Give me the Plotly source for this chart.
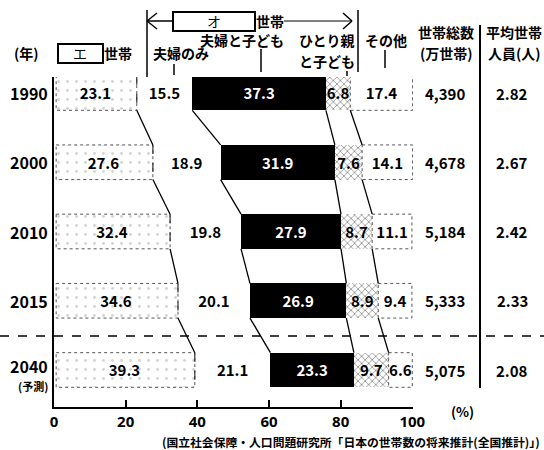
import plotly.graph_objects as go

# ---- data ----
years = ["1990", "2000", "2010", "2015", "2040"]
categories = ["単独", "夫婦のみ", "夫婦と子ども", "ひとり親と子ども", "その他"]
tandoku = [23.1, 27.6, 32.4, 34.6, 39.3]
fufu_nomi = [15.5, 18.9, 19.8, 20.1, 21.1]
fufu_ko = [37.3, 31.9, 27.9, 26.9, 23.3]
hitorioya = [6.8, 7.6, 8.7, 8.9, 9.7]
sonota = [17.4, 14.1, 11.1, 9.4, 6.6]
total_households = ["4,390", "4,678", "5,184", "5,333", "5,075"]
avg_members = ["2.82", "2.67", "2.42", "2.33", "2.08"]
x_ticks = [0, 20, 40, 60, 80, 100]

FONT = "Noto Sans CJK JP"
W, H = 544, 450
ML, MR, MT, MB = 54, 131, 77, 43
PW, PH = W - ML - MR, H - MT - MB
XMAX = 100.2
HF = 14     # header font size
NF = 15     # number font size


def px(x):
    return (x - ML) / PW


def py(y):
    return (H - MB - y) / PH


ypos = list(range(len(years)))
series = [tandoku, fufu_nomi, fufu_ko, hitorioya, sonota]

fig = go.Figure()

styles = [
    dict(color="white", pattern=dict(shape=".", fgcolor="#aaaaaa", bgcolor="white", size=9, solidity=0.08), tc="black"),
    dict(color="white", pattern=None, tc="black"),
    dict(color="black", pattern=None, tc="white"),
    dict(color="white", pattern=dict(shape="x", fgcolor="#222222", bgcolor="white", size=5, solidity=0.3), tc="black"),
    dict(color="white", pattern=None, tc="black"),
]

for name, vals, st in zip(categories, series, styles):
    marker = dict(color=st["color"], line=dict(width=0))
    if st["pattern"]:
        marker["pattern"] = st["pattern"]
    fig.add_trace(go.Bar(
        y=ypos, x=vals, orientation="h", width=0.5, name=name,
        marker=marker, text=[f"{v:.1f}" for v in vals],
        textposition="inside", insidetextanchor="middle", textangle=0,
        textfont=dict(family=FONT, size=NF, color=st["tc"], weight="bold"),
        cliponaxis=False, hoverinfo="skip",
    ))

shapes = []
cums = []
for i in range(len(years)):
    c, row = 0, []
    for s in series:
        c += s[i]
        row.append(c)
    cums.append(row)

for i in range(len(years)):
    shapes.append(dict(type="rect", xref="x", yref="y", x0=0.6, x1=cums[i][0],
                       y0=i - 0.25, y1=i + 0.25, line=dict(color="#555", width=1, dash="dot")))
    shapes.append(dict(type="rect", xref="x", yref="y", x0=cums[i][3], x1=cums[i][4],
                       y0=i - 0.25, y1=i + 0.25, line=dict(color="#555", width=1, dash="dot")))
    shapes.append(dict(type="line", xref="x", yref="y", x0=cums[i][0], x1=cums[i][0],
                       y0=i - 0.25, y1=i + 0.25, line=dict(color="#333", width=1.2, dash="dash")))

for i in range(len(years) - 1):
    for k in range(4):
        shapes.append(dict(type="line", xref="x", yref="y",
                           x0=cums[i][k], y0=i + 0.25, x1=cums[i + 1][k], y1=i + 1 - 0.25,
                           line=dict(color="black", width=1.3)))

shapes.append(dict(type="line", xref="paper", yref="paper", x0=px(0), x1=px(544),
                   y0=py(336), y1=py(336), line=dict(color="black", width=1.5, dash="dash")))
shapes.append(dict(type="line", xref="paper", yref="paper", x0=px(480), x1=px(480),
                   y0=py(25), y1=py(388), line=dict(color="black", width=2)))


def pline(x0, y0, x1, y1, w=1.5):
    shapes.append(dict(type="line", xref="paper", yref="paper", x0=px(x0), y0=py(y0),
                       x1=px(x1), y1=py(y1), line=dict(color="black", width=w)))


pline(147, 10, 147, 77)
pline(358, 10, 358, 72)
pline(147, 21, 173, 21)
pline(284, 21, 352, 21, 1)
pline(147, 21, 157, 13)
pline(147, 21, 157, 29)
pline(352, 21, 343, 13)
pline(352, 21, 343, 29)
shapes.append(dict(type="rect", xref="paper", yref="paper", x0=px(173), x1=px(255),
                   y0=py(31), y1=py(12), line=dict(color="black", width=2), fillcolor="white"))
shapes.append(dict(type="rect", xref="paper", yref="paper", x0=px(58), x1=px(103),
                   y0=py(63), y1=py(44), line=dict(color="black", width=2), fillcolor="white"))
pline(174, 64, 174, 75)
pline(261, 49, 261, 72)
pline(347, 71, 347, 76)
pline(385, 50, 385, 68)

annotations = []


def ptext(x, y, t, size=HF, anchor="center", bold=True):
    annotations.append(dict(xref="paper", yref="paper", x=px(x), y=py(y), text=t,
                            showarrow=False, xanchor=anchor, yanchor="middle",
                            font=dict(family=FONT, size=size, color="black",
                                      weight="bold" if bold else "normal")))


ptext(26, 53, "(年)")
ptext(80, 53, "エ", bold=False)
ptext(118, 53, "世帯")
ptext(214, 21, "オ", bold=False)
ptext(270, 21, "世帯")
ptext(181, 53, "夫婦のみ")
ptext(242, 40, "夫婦と子ども")
ptext(327, 40, "ひとり親")
ptext(327, 61, "と子ども")
ptext(386, 40, "その他")
ptext(446, 32, "世帯総数")
ptext(446, 53, "(万世帯)")
ptext(514, 32, "平均世帯")
ptext(514, 53, "人員(人)")
ptext(462, 411, "(%)", 13.5)
ptext(542, 441, "(国立社会保障・人口問題研究所「日本の世帯数の将来推計(全国推計)」)", 11.8, anchor="right")

for i, yr in enumerate(years):
    if yr == "2040":
        annotations.append(dict(xref="paper", yref="y", x=px(50), y=i - 0.06, text=yr,
                                showarrow=False, xanchor="right", yanchor="middle",
                                font=dict(family=FONT, size=16, color="black", weight="bold")))
        annotations.append(dict(xref="paper", yref="y", x=px(50), y=i + 0.23, text="(予測)",
                                showarrow=False, xanchor="right", yanchor="middle",
                                font=dict(family=FONT, size=11, color="black", weight="bold")))
    else:
        annotations.append(dict(xref="paper", yref="y", x=px(50), y=i, text=yr,
                                showarrow=False, xanchor="right", yanchor="middle",
                                font=dict(family=FONT, size=16, color="black", weight="bold")))
    annotations.append(dict(xref="paper", yref="y", x=px(445), y=i, text=total_households[i],
                            showarrow=False, xanchor="center", yanchor="middle",
                            font=dict(family=FONT, size=NF, color="black", weight="bold")))
    annotations.append(dict(xref="paper", yref="y", x=px(512), y=i, text=avg_members[i],
                            showarrow=False, xanchor="center", yanchor="middle",
                            font=dict(family=FONT, size=NF, color="black", weight="bold")))

# y range chosen so row centres sit at the same pixel rows as the reference
y_top = -0.231
y_bottom = y_top + PH / 69.25

fig.update_layout(
    width=W, height=H, margin=dict(l=ML, r=MR, t=MT, b=MB, pad=0),
    paper_bgcolor="white", plot_bgcolor="white",
    barmode="stack", showlegend=False, bargap=0.5,
    uniformtext=dict(minsize=NF, mode="show"),
    shapes=shapes, annotations=annotations,
    xaxis=dict(range=[0, XMAX], tickvals=x_ticks, ticks="inside", ticklen=7, tickwidth=1.5,
               tickcolor="black", showline=True, linecolor="black", linewidth=1.5,
               showgrid=False, zeroline=False, ticklabelstandoff=0,
               tickfont=dict(family="Noto Sans", size=15, color="black", weight="bold")),
    yaxis=dict(range=[y_bottom, y_top], showticklabels=False, ticks="", showgrid=False,
               zeroline=False, showline=True, linecolor="black", linewidth=1.5),
)

fig.write_html("out.html", config={"displayModeBar": False},
               post_script="document.body.style.margin='0';document.body.style.overflow='hidden';")
